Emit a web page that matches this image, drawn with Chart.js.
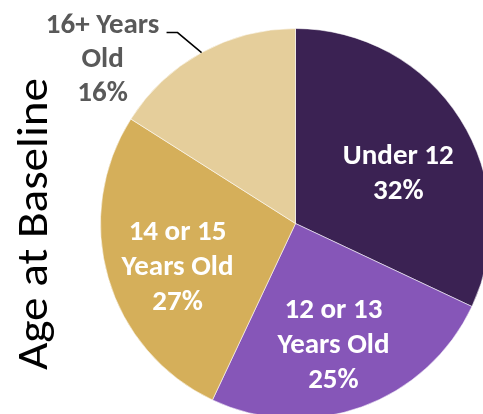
<!DOCTYPE html>
<html>
<head>
<meta charset="utf-8">
<script src="https://cdn.jsdelivr.net/npm/chart.js@4/dist/chart.umd.min.js"></script>
<style>
  html, body { margin: 0; padding: 0; background: #ffffff; overflow: hidden; }
  #wrap { position: absolute; left: 0; top: 0; width: 500px; height: 430px; }
</style>
</head>
<body>
<div id="wrap"><canvas id="pie" width="500" height="430"></canvas></div>
<script>
// Age groups at baseline and their share of participants (%)
const categories = ['Under 12', '12 or 13 Years Old', '14 or 15 Years Old', '16+ Years Old'];
const shares = [32, 25, 27, 16];
// How each category name is broken over lines in its label
const labelLines = [
  ['Under 12'],
  ['12 or 13', 'Years Old'],
  ['14 or 15', 'Years Old'],
  ['16+ Years', 'Old']
];
const axisTitle = 'Age at Baseline';

const sliceColors = ['#3b2253', '#8656b8', '#d5af5a', '#e5ce9b'];

// Label placement: inside labels sit at a fraction of the radius along the
// slice's middle angle (plus a small nudge); the last one is called out.
const labelStyle = [
  { inside: true, frac: 0.60, dx: 4, dy: 13 },
  { inside: true, frac: 0.65, dx: -5, dy: 3 },
  { inside: true, frac: 0.63, dx: 0, dy: 10 },
  { inside: false }
];

const LABEL_FONT = 'bold 29px Carlito, Lato, "Liberation Sans", sans-serif';
const TITLE_FONT = '43px Carlito, Lato, "Liberation Sans", sans-serif';
const TITLE_LENGTH = 292;
const LINE_H = 35;

const pieLabels = {
  id: 'pieLabels',
  afterDraw(chart) {
    const ctx = chart.ctx;
    const meta = chart.getDatasetMeta(0);
    ctx.save();
    ctx.textAlign = 'center';
    ctx.textBaseline = 'middle';
    ctx.font = LABEL_FONT;
    meta.data.forEach((arc, i) => {
      const p = arc.getProps(['x', 'y', 'startAngle', 'endAngle', 'outerRadius'], true);
      const mid = (p.startAngle + p.endAngle) / 2;
      const lines = labelLines[i].concat([shares[i] + '%']);
      const st = labelStyle[i];
      if (st.inside) {
        const r = p.outerRadius * st.frac;
        const cx = p.x + Math.cos(mid) * r + st.dx;
        const cy = p.y + Math.sin(mid) * r + st.dy;
        ctx.fillStyle = '#ffffff';
        const y0 = cy - (lines.length - 1) * LINE_H / 2;
        lines.forEach((t, k) => ctx.fillText(t, cx, y0 + k * LINE_H));
      } else {
        // callout with a leader line from the slice edge
        const ex = p.x + Math.cos(mid) * p.outerRadius;
        const ey = p.y + Math.sin(mid) * p.outerRadius;
        const bx = ex - 24, by = ey - 20;
        const tx = bx - 11;
        ctx.strokeStyle = '#000000';
        ctx.lineWidth = 1.5;
        ctx.beginPath();
        ctx.moveTo(ex, ey);
        ctx.lineTo(bx, by);
        ctx.lineTo(tx, by);
        ctx.stroke();
        ctx.fillStyle = '#595959';
        const cx = tx - 64;
        const y0 = by - 7;
        lines.forEach((t, k) => ctx.fillText(t, cx, y0 + k * 34));
      }
    });
    // vertical title on the left, stretched to its set length
    ctx.font = TITLE_FONT;
    ctx.fillStyle = '#000000';
    ctx.textBaseline = 'alphabetic';
    const w = ctx.measureText(axisTitle).width;
    ctx.translate(47, 224);
    ctx.rotate(-Math.PI / 2);
    ctx.scale(TITLE_LENGTH / w, 1);
    ctx.fillText(axisTitle, 0, 0);
    ctx.restore();
  }
};

new Chart(document.getElementById('pie'), {
  type: 'pie',
  data: {
    labels: categories,
    datasets: [{
      data: shares,
      backgroundColor: sliceColors,
      borderColor: 'rgba(255,255,255,0.55)',
      borderWidth: 1
    }]
  },
  options: {
    responsive: false,
    animation: false,
    devicePixelRatio: 1,
    layout: { padding: { left: 100, top: 28, right: 9, bottom: 11 } },
    plugins: {
      legend: { display: false },
      tooltip: { enabled: false },
      title: { display: false }
    }
  },
  plugins: [pieLabels]
});
</script>
</body>
</html>
